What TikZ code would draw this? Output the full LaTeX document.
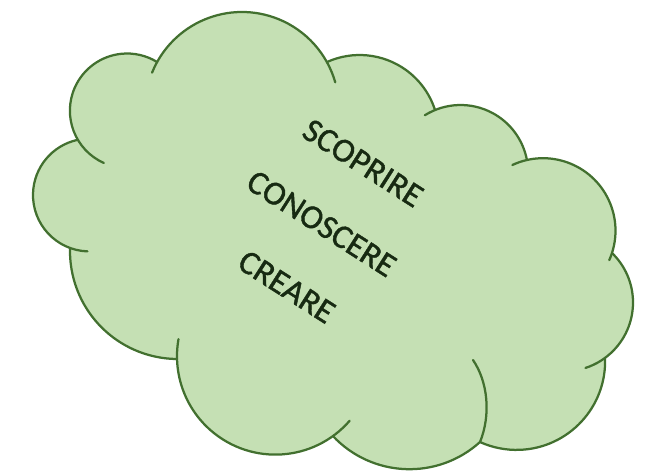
\documentclass[tikz,border=0pt]{standalone}
\usepackage{fontspec}
\setmainfont{Carlito}
\newfontfamily\wordfont[FakeBold=1.2]{Carlito}
\usepackage{xcolor}
\usepackage{tikz}
\usetikzlibrary{positioning}

\definecolor{cloudgreen}{HTML}{C5E0B4}
\definecolor{cloudedge}{HTML}{42702F}
\definecolor{wordgreen}{HTML}{172A12}

% puffs of the cloud: centre x / centre y / radius / from / to / outline from / outline to
\def\puffs{242/-109/97/151.1/28.9/158/16,
  359.6/-134.2/79.2/114.3/17.8/114.3/17.8,
  460.6/-172.5/67.5/112.3/10.7/122/10.7,
  543/-230.7/72.5/102.7/-17.9/115/-24,
  564.2/-302.5/68.8/46/-53.7/46/-72,
  516.5/-361.3/88.6/2.1/-114.3/2.1/-114.3,
  409.5/-364.2/105/-47.8/-136.8/-47.8/-136.8,
  275.4/-356.2/98.4/-54.2/-178.4/-41/-190,
  177.9/-251.1/107.9/-90.5/-181.6/-90.5/-181.6,
  89.4/-195/56.4/249.9/102.7/268/102.7,
  127.1/-110.7/57.2/210.8/58.4/246/58.4}

\begin{document}
\begin{tikzpicture}[
  x=0.025cm,y=0.025cm,
  cloudfill/.style={fill=cloudgreen},
  cloudline/.style={draw=cloudedge,line width=1.6pt,line cap=round},
  word/.style={rotate=-32.5,inner sep=0pt,text=wordgreen,font=\wordfont\fontsize{24}{28}\selectfont}
]
\useasboundingbox (0,0) rectangle (649,-475);

\fill[cloudfill] (157,-62)
  \foreach \cx/\cy/\r/\a/\b/\ea/\eb in \puffs {
    -- ([shift={(\a:\r)}]\cx,\cy) arc[start angle=\a,end angle=\b,radius=\r]
  } -- cycle;

\foreach \cx/\cy/\r/\a/\b/\ea/\eb in \puffs
  \draw[cloudline] ([shift={(\ea:\r)}]\cx,\cy) arc[start angle=\ea,end angle=\eb,radius=\r];
\draw[cloudline] (480,-442) .. controls (491,-415) and (488,-382) .. (473,-360);

\node[word] (scoprire) at (363,-163) {SCOPRIRE};
\node[word] (conoscere) at (321.5,-223.5) {CONOSCERE};
\node[word] (creare) at (286.7,-286.7) {CREARE};
\end{tikzpicture}
\end{document}
